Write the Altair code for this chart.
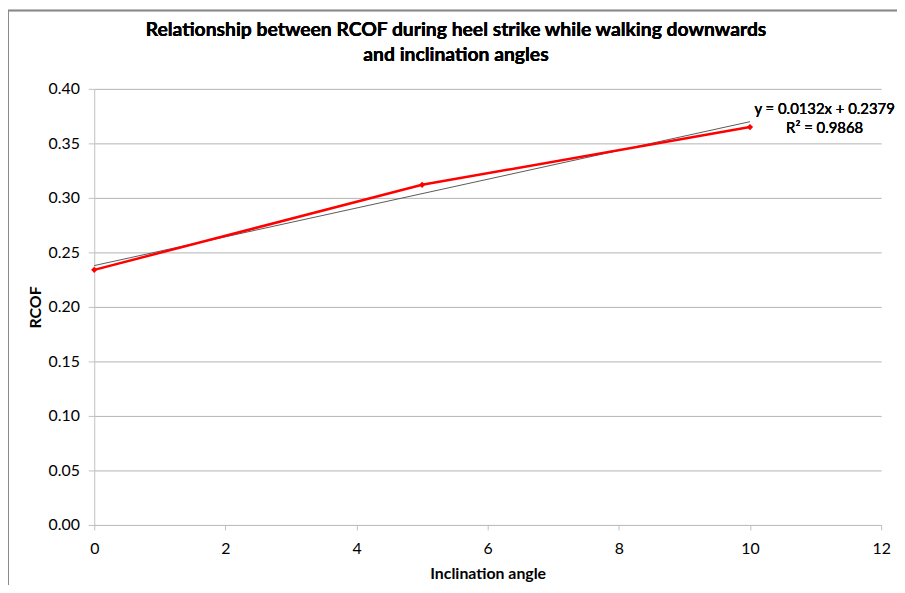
import altair as alt
import pandas as pd

# ---- data ----
angles = [0, 5, 10]
rcof = [0.234, 0.312, 0.365]
trend_slope = 0.0132
trend_intercept = 0.2379
trend_r2 = 0.9868
x_ticks = [0, 2, 4, 6, 8, 10, 12]
y_ticks = [0.00, 0.05, 0.10, 0.15, 0.20, 0.25, 0.30, 0.35, 0.40]
title_lines = ["Relationship between RCOF during heel strike while walking downwards",
               "and inclination angles"]

df = pd.DataFrame({"angle": angles, "rcof": rcof})
trend_x = [min(angles), max(angles)]
trend = pd.DataFrame({"angle": trend_x,
                      "fit": [trend_intercept + trend_slope * a for a in trend_x]})
eq_text = f"y = {trend_slope}x + {trend_intercept}\nR² = {trend_r2}"
title_text = "\n".join(title_lines)

FONT = "Lato"

xscale = alt.Scale(domain=[0, 12], nice=False)
yscale = alt.Scale(domain=[0, 0.4], nice=False)

x_enc = alt.X("angle:Q", scale=xscale,
              axis=alt.Axis(values=x_ticks, title="Inclination angle", grid=False,
                            format="d", tickSize=5, labelPadding=11, labelFlush=False,
                            titleY=49, titleBaseline="middle"))
y_enc = alt.Y("rcof:Q", scale=yscale,
              axis=alt.Axis(values=y_ticks, title="RCOF", format=".2f", grid=True,
                            tickSize=6, labelPadding=9, labelFlush=False,
                            titleX=-59, titleY=220, titleAlign="center",
                            titleBaseline="middle"))

trend_line = alt.Chart(trend).mark_line(color="#595959", strokeWidth=1).encode(
    x=alt.X("angle:Q", scale=xscale),
    y=alt.Y("fit:Q", scale=yscale),
)

red_line = alt.Chart(df).mark_line(color="#ff0000", strokeWidth=2.5).encode(x=x_enc, y=y_enc)
red_pts = alt.Chart(df).mark_point(shape="diamond", filled=True, size=40,
                                   color="#ff0000", opacity=1).encode(x="angle:Q", y="rcof:Q")

eq_label = alt.Chart(df).mark_text(align="center", baseline="top", fontSize=15,
                                   font=FONT, fontWeight=400, lineHeight=20,
                                   color="#000000", lineBreak="\n").encode(
    x=alt.value(737), y=alt.value(13), text=alt.value(eq_text)
)

title_mark = alt.Chart(df).mark_text(align="center", baseline="top", fontSize=19.5,
                                     font=FONT, fontWeight="bold", lineHeight=25,
                                     color="#000000", lineBreak="\n").encode(
    x=alt.value(365), y=alt.value(-68), text=alt.value(title_text)
)

border_v = alt.Chart(df).mark_rule(color="#8a8a8a", strokeWidth=1.5).encode(
    x=alt.value(-87), y=alt.value(-79), y2=alt.value(600))
border_h = alt.Chart(df).mark_rule(color="#8a8a8a", strokeWidth=1.5).encode(
    x=alt.value(-87), x2=alt.value(900), y=alt.value(-79))

chart = alt.layer(border_v, border_h, trend_line, red_line, red_pts, eq_label,
                  title_mark).properties(
    width=794, height=440,
    background="white",
    autosize=alt.AutoSizeParams(type="none"),
    padding={"left": 87, "top": 79, "right": 16, "bottom": 58},
).configure_view(stroke=None).configure_axis(
    labelFont=FONT, titleFont=FONT, labelFontSize=16, titleFontSize=16,
    labelColor="#000000", titleColor="#000000", titleFontWeight="bold",
    domainColor="#bfbfbf", tickColor="#bfbfbf", gridColor="#b3b3b3",
    domainWidth=1, gridWidth=1,
)

chart.save("out.html", embed_options={"renderer": "svg", "actions": False})
